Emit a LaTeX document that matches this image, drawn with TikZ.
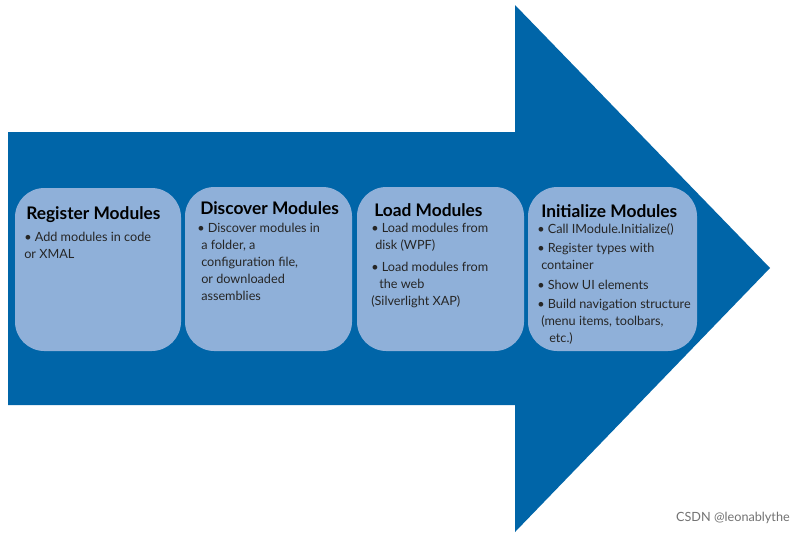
\documentclass[tikz,border=0pt]{standalone}
\usepackage{fontspec}
\setmainfont{Lato}
\begin{document}
\begin{tikzpicture}[x=0.75pt,y=-0.75pt,
  box/.style={draw=none,fill=boxblue,rounded corners=22pt},
  ttl/.style={anchor=west,font=\fontsize{13}{15}\selectfont\bfseries,text=black,inner sep=0pt},
  bdy/.style={anchor=north west,align=left,font=\fontsize{9.5}{12.7}\selectfont,text=black!85,inner sep=0pt}]
\definecolor{arrowblue}{HTML}{0065A8}
\definecolor{boxblue}{HTML}{8FB0D9}
\useasboundingbox (0,0) rectangle (805,537);
\fill[white] (0,0) rectangle (805,537);
\fill[arrowblue] (8,132) coordinate (a1) -- (515,132) -- (515,5) -- (770,268) coordinate (tip) -- (515,532) -- (515,405) -- (8,405) -- cycle;
\fill[box] (15,188) rectangle (181,351);
\fill[box] (185,187) rectangle (352,351);
\fill[box] (357,187) rectangle (524,351);
\fill[box] (528,187) rectangle (697,351);
\node[ttl] (t1) at (26,215) {Register Modules};
\node[ttl] (t2) at (200,208) {Discover Modules};
\node[ttl] (t3) at (374,210) {Load Modules};
\node[ttl] (t4) at (541,211) {Initialize Modules};
\node[bdy] (b1) at (24,232) {• Add modules in code\\or XMAL};
\node[bdy] (b2) at (197,223) {• Discover modules in\\\hspace*{3pt}a folder, a\\\hspace*{3pt}configuration file,\\\hspace*{3pt}or downloaded\\\hspace*{3pt}assemblies};
\node[bdy] (b3) at (371,223) {• Load modules from\\\hspace*{3pt}disk (WPF)\\[4pt]• Load modules from\\\hspace*{6pt}the web\\(Silverlight XAP)};
\node[bdy] (b4) at (537,223) {• Call IModule.Initialize()\\[2pt]• Register types with\\\hspace*{3pt}container\\[2pt]• Show UI elements\\[2pt]• Build navigation structure\\\hspace*{3pt}(menu items, toolbars,\\\hspace*{9pt}etc.)};
\node[anchor=east,font=\fontsize{9.5}{11}\selectfont,text=black!55,inner sep=0pt] (wm) at (790,518) {CSDN @leonablythe};
\end{tikzpicture}
\end{document}
